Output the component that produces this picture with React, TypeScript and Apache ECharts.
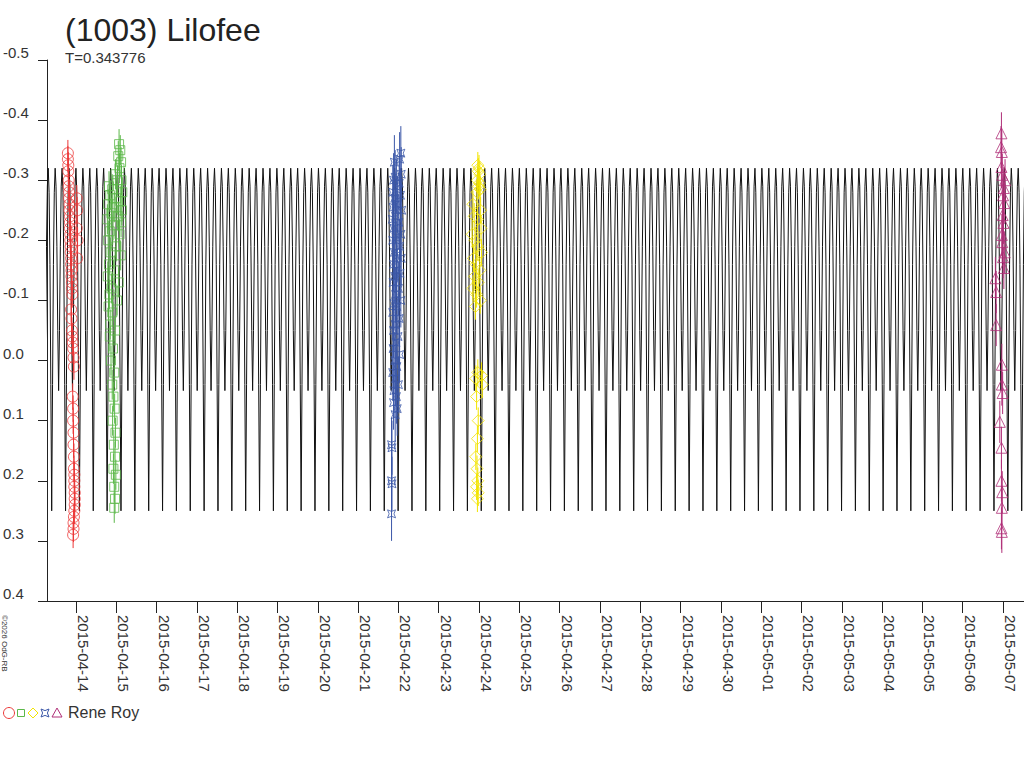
import React, { useEffect, useRef } from "react";
import * as echarts from "echarts";

const TITLE = "(1003) Lilofee";
const SUBTITLE = "T=0.343776";
const PERIOD = 0.343776;
const OBSERVER = "Rene Roy";
const COPYRIGHT = "©2026 OdG-RB";

const TICK_LABELS = [
  "2015-04-14", "2015-04-15", "2015-04-16", "2015-04-17", "2015-04-18", "2015-04-19",
  "2015-04-20", "2015-04-21", "2015-04-22", "2015-04-23", "2015-04-24", "2015-04-25",
  "2015-04-26", "2015-04-27", "2015-04-28", "2015-04-29", "2015-04-30", "2015-05-01",
  "2015-05-02", "2015-05-03", "2015-05-04", "2015-05-05", "2015-05-06", "2015-05-07",
];
// x in days since 2015-04-14 00:00
const X_MIN = -0.718;
const X_MAX = 23.52;
const Y_MIN = -0.5;
const Y_MAX = 0.4;
const Y_STEP = 0.1;

// one rotation of the model light curve
const PHASE = [0, 0.0625, 0.125, 0.1875, 0.25, 0.3125, 0.375, 0.4375, 0.5, 0.5625, 0.625, 0.6875, 0.75, 0.8125, 0.875, 0.9375];
const PHASE_MAG = [-0.32, -0.28, -0.16, 0.04, 0.25, 0.04, -0.16, -0.28, -0.32, -0.29, -0.19, -0.05, 0.05, -0.05, -0.19, -0.29];
const CURVE_EPOCH = 0.0;

// sessions: [day, mag]
const RED_OBS = [
  [-0.2, -0.345], [-0.2, -0.335], [-0.19, -0.325], [-0.19, -0.315], [-0.18, -0.3], [-0.18, -0.29],
  [-0.17, -0.28], [-0.17, -0.27], [-0.16, -0.26], [-0.16, -0.25], [-0.15, -0.24], [-0.15, -0.23],
  [-0.15, -0.22], [-0.14, -0.21], [-0.14, -0.2], [-0.13, -0.19], [-0.13, -0.18], [-0.12, -0.17],
  [-0.12, -0.16], [-0.11, -0.15], [-0.11, -0.14], [-0.1, -0.13], [-0.1, -0.12], [-0.09, -0.11],
  [0.02, -0.27], [0.03, -0.25], [0.02, -0.22], [0.04, -0.2], [0.03, -0.17], [-0.12, -0.085],
  [-0.11, -0.07], [-0.1, -0.05], [-0.09, -0.04], [-0.08, -0.03], [-0.07, -0.02], [-0.06, -0.005],
  [-0.05, 0.01], [-0.08, 0.06], [-0.07, 0.08], [-0.07, 0.1], [-0.06, 0.12], [-0.06, 0.14],
  [-0.05, 0.16], [-0.05, 0.18], [-0.04, 0.19], [-0.04, 0.2], [-0.04, 0.21], [-0.03, 0.22],
  [-0.03, 0.23], [-0.03, 0.24], [-0.04, 0.25], [-0.05, 0.26], [-0.06, 0.27], [-0.06, 0.28], [-0.07, 0.29],
];
const GREEN_OBS = [
  [1.07, -0.36], [1.1, -0.35], [1.05, -0.34], [1.12, -0.33], [1.08, -0.32], [0.98, -0.31], [1.13, -0.3],
  [1.03, -0.3], [0.82, -0.29], [0.9, -0.285], [1.15, -0.28], [0.85, -0.275], [1.0, -0.27], [1.1, -0.265],
  [0.8, -0.26], [0.95, -0.255], [1.14, -0.25], [0.88, -0.245], [1.05, -0.24], [0.78, -0.235], [1.12, -0.23],
  [0.92, -0.225], [0.84, -0.215], [1.08, -0.21], [0.8, -0.2], [1.0, -0.19], [0.86, -0.18], [1.11, -0.175],
  [0.82, -0.16], [0.95, -0.15], [0.79, -0.14], [1.06, -0.13], [0.88, -0.12], [0.83, -0.11], [1.02, -0.1],
  [0.81, -0.09], [0.9, -0.08], [0.85, -0.06], [0.97, -0.05], [0.84, -0.04], [0.92, -0.02], [0.87, 0.0],
  [0.95, 0.02], [0.9, 0.04], [0.93, 0.06], [0.96, 0.08], [0.91, 0.1], [0.98, 0.12], [0.94, 0.14],
  [0.97, 0.16], [0.93, 0.18], [0.99, 0.19], [0.95, 0.21], [0.97, 0.23], [0.95, 0.245],
];
const BLUE_OBS = [
  [8.06, -0.345], [8.03, -0.335], [7.9, -0.33], [8.07, -0.31], [7.92, -0.305], [7.88, -0.3], [8.02, -0.295],
  [7.95, -0.29], [7.86, -0.28], [8.05, -0.275], [7.91, -0.27], [7.98, -0.26], [7.87, -0.255], [8.08, -0.25],
  [7.93, -0.24], [7.85, -0.235], [8.01, -0.23], [7.89, -0.22], [8.06, -0.21], [7.94, -0.205], [7.86, -0.2],
  [8.03, -0.19], [7.9, -0.18], [7.97, -0.175], [8.07, -0.17], [7.88, -0.16], [7.95, -0.15], [8.04, -0.145],
  [7.91, -0.14], [7.87, -0.13], [8.0, -0.12], [7.93, -0.11], [8.06, -0.1], [7.89, -0.095], [7.96, -0.09],
  [7.86, -0.08], [8.02, -0.07], [7.92, -0.06], [7.88, -0.05], [7.99, -0.04], [7.94, -0.03], [7.87, -0.02],
  [8.03, -0.01], [7.91, 0.0], [7.96, 0.01], [7.86, 0.02], [7.93, 0.03], [8.0, 0.04], [7.89, 0.05],
  [7.95, 0.06], [7.88, 0.07], [7.97, 0.08], [7.92, 0.09], [7.83, 0.14], [7.84, 0.145], [7.83, 0.2],
  [7.84, 0.205], [7.83, 0.255],
];
const YELLOW_OBS = [
  [9.97, -0.325], [10.0, -0.32], [9.98, -0.315], [10.02, -0.31], [9.96, -0.3], [10.01, -0.295], [9.99, -0.29],
  [10.03, -0.285], [9.95, -0.28], [9.85, -0.26], [10.04, -0.25], [9.88, -0.24], [9.96, -0.235], [10.05, -0.22],
  [9.83, -0.21], [9.9, -0.2], [9.97, -0.19], [10.06, -0.18], [9.86, -0.17], [9.93, -0.16], [10.02, -0.15],
  [9.89, -0.14], [9.98, -0.13], [9.85, -0.12], [9.94, -0.11], [10.03, -0.1], [9.91, -0.09], [9.97, 0.02],
  [10.06, 0.025], [9.92, 0.03], [10.08, 0.04], [9.94, 0.06], [9.98, 0.1], [9.96, 0.13], [9.92, 0.16],
  [9.95, 0.18], [9.97, 0.2], [9.94, 0.21], [9.98, 0.22], [9.96, 0.23],
];
const MAGENTA_OBS = [
  [22.96, -0.378], [22.95, -0.355], [22.97, -0.347], [22.96, -0.322], [22.98, -0.309], [23.05, -0.3],
  [23.02, -0.287], [23.0, -0.275], [23.03, -0.262], [22.99, -0.242], [23.01, -0.229], [22.97, -0.209],
  [22.98, -0.197], [23.04, -0.18], [23.0, -0.172], [23.02, -0.154], [22.81, -0.137], [22.83, -0.114],
  [22.83, -0.059], [22.97, 0.007], [22.97, 0.04], [22.99, 0.054], [22.92, 0.102], [22.96, 0.145],
  [22.96, 0.2], [22.98, 0.219], [22.97, 0.245], [22.96, 0.279], [22.97, 0.285],
];
const SESSION_ERR = [0.022, 0.025, 0.045, 0.022, 0.035];

const FONT = "Liberation Sans, Arial, sans-serif";
const STAR = "path://M0,0L5,2L10,0L8,5L10,10L5,8L0,10L2,5Z";

const SESSIONS = [
  { name: "red", data: RED_OBS, color: "#ec3838", symbol: "circle", size: 11 },
  { name: "green", data: GREEN_OBS, color: "#5cb84a", symbol: "rect", size: 9 },
  { name: "yellow", data: YELLOW_OBS, color: "#f2e400", symbol: "diamond", size: 12 },
  { name: "blue", data: BLUE_OBS, color: "#3b57a8", symbol: STAR, size: 8 },
  { name: "magenta", data: MAGENTA_OBS, color: "#b03078", symbol: "triangle", size: 11 },
];
const ERR_ORDER = ["red", "green", "blue", "yellow", "magenta"];

function buildCurve() {
  const pts: number[][] = [];
  const k0 = Math.floor((X_MIN - CURVE_EPOCH) / PERIOD) - 1;
  const k1 = Math.ceil((X_MAX - CURVE_EPOCH) / PERIOD) + 1;
  for (let k = k0; k <= k1; k++) {
    for (let i = 0; i < PHASE.length; i++) {
      const t = CURVE_EPOCH + (k + PHASE[i]) * PERIOD;
      pts.push([t, PHASE_MAG[i]]);
    }
  }
  return pts;
}

export default function App() {
  const ref = useRef<HTMLDivElement>(null);
  useEffect(() => {
    if (!ref.current) return;
    const chart = echarts.init(ref.current, null, { renderer: "svg" });
    const series: any[] = [
      {
        type: "line",
        data: buildCurve(),
        showSymbol: false,
        symbol: "none",
        lineStyle: { color: "#111", width: 1 },
        z: 1,
        silent: true,
        clip: true,
      },
    ];
    SESSIONS.forEach((s) => {
      const err = SESSION_ERR[ERR_ORDER.indexOf(s.name)];
      series.push({
        type: "custom",
        data: s.data.map((p) => [p[0], p[1], err]),
        z: 2,
        silent: true,
        clip: true,
        renderItem: (params: any, api: any) => {
          const x = api.value(0);
          const m = api.value(1);
          const e = api.value(2);
          const a = api.coord([x, m - e]);
          const b = api.coord([x, m + e]);
          return {
            type: "line",
            shape: { x1: a[0], y1: a[1], x2: b[0], y2: b[1] },
            style: { stroke: s.color, lineWidth: 1 },
          };
        },
      });
      series.push({
        type: "scatter",
        data: s.data,
        symbol: s.symbol,
        symbolSize: s.size,
        itemStyle: { color: "rgba(0,0,0,0)", borderColor: s.color, borderWidth: 1 },
        z: 3,
        silent: true,
      });
    });

    const ly = 713;
    chart.setOption({
      animation: false,
      backgroundColor: "#fff",
      grid: { left: 45, right: 0, top: 60, bottom: 167, containLabel: false },
      xAxis: {
        type: "value",
        min: X_MIN,
        max: X_MAX,
        splitLine: { show: false },
        axisLine: { onZero: false, lineStyle: { color: "#222", width: 1 } },
        axisTick: {
          length: 12,
          lineStyle: { color: "#222" },
          customValues: TICK_LABELS.map((_, i) => i),
        },
        axisLabel: {
          customValues: TICK_LABELS.map((_, i) => i),
          formatter: (v: number) => TICK_LABELS[Math.round(v)] ?? "",
          rotate: -90,
          align: "left",
          verticalAlign: "bottom",
          margin: 14,
          fontSize: 15,
          fontFamily: FONT,
          color: "#333",
        },
      },
      yAxis: {
        type: "value",
        inverse: true,
        min: Y_MIN,
        max: Y_MAX,
        interval: Y_STEP,
        splitLine: { show: false },
        axisLine: { onZero: false, lineStyle: { color: "#222", width: 1 } },
        axisTick: { length: 9, lineStyle: { color: "#222" } },
        axisLabel: {
          formatter: (v: number) => v.toFixed(1),
          align: "left",
          verticalAlign: "bottom",
          lineHeight: 15,
          margin: 44,
          fontSize: 15,
          fontFamily: FONT,
          color: "#333",
        },
      },
      series,
      graphic: [
        {
          type: "text",
          left: 65,
          top: 14,
          style: { text: TITLE, fontSize: 32, fontFamily: FONT, fill: "#222" },
        },
        {
          type: "text",
          left: 65,
          top: 50,
          style: { text: SUBTITLE, fontSize: 15, fontFamily: FONT, fill: "#333" },
        },
        {
          type: "text",
          x: 0,
          y: 615,
          rotation: -Math.PI / 2,
          style: { text: COPYRIGHT, fontSize: 8, fontFamily: FONT, fill: "#333", verticalAlign: "bottom", align: "left" },
        },
        { type: "circle", shape: { cx: 9, cy: ly, r: 5.5 }, style: { fill: "none", stroke: SESSIONS[0].color, lineWidth: 1 } },
        { type: "rect", shape: { x: 17.5, y: ly - 3.5, width: 7, height: 7 }, style: { fill: "none", stroke: SESSIONS[1].color, lineWidth: 1 } },
        {
          type: "polygon",
          shape: { points: [[33, ly - 5], [38, ly], [33, ly + 5], [28, ly]] },
          style: { fill: "none", stroke: SESSIONS[2].color, lineWidth: 1 },
        },
        {
          type: "polygon",
          shape: { points: [[41, ly - 4], [45, ly - 2.4], [49, ly - 4], [47.4, ly], [49, ly + 4], [45, ly + 2.4], [41, ly + 4], [42.6, ly]] },
          style: { fill: "none", stroke: SESSIONS[3].color, lineWidth: 1 },
        },
        {
          type: "polygon",
          shape: { points: [[57, ly - 5], [62, ly + 4], [52, ly + 4]] },
          style: { fill: "none", stroke: SESSIONS[4].color, lineWidth: 1 },
        },
        {
          type: "text",
          left: 68,
          top: ly - 9,
          style: { text: OBSERVER, fontSize: 16, fontFamily: FONT, fill: "#333" },
        },
      ],
    });
    return () => chart.dispose();
  }, []);
  return (
    <div
      ref={ref}
      style={{ position: "fixed", left: 0, top: 0, width: 1024, height: 768, background: "#fff" }}
    />
  );
}
